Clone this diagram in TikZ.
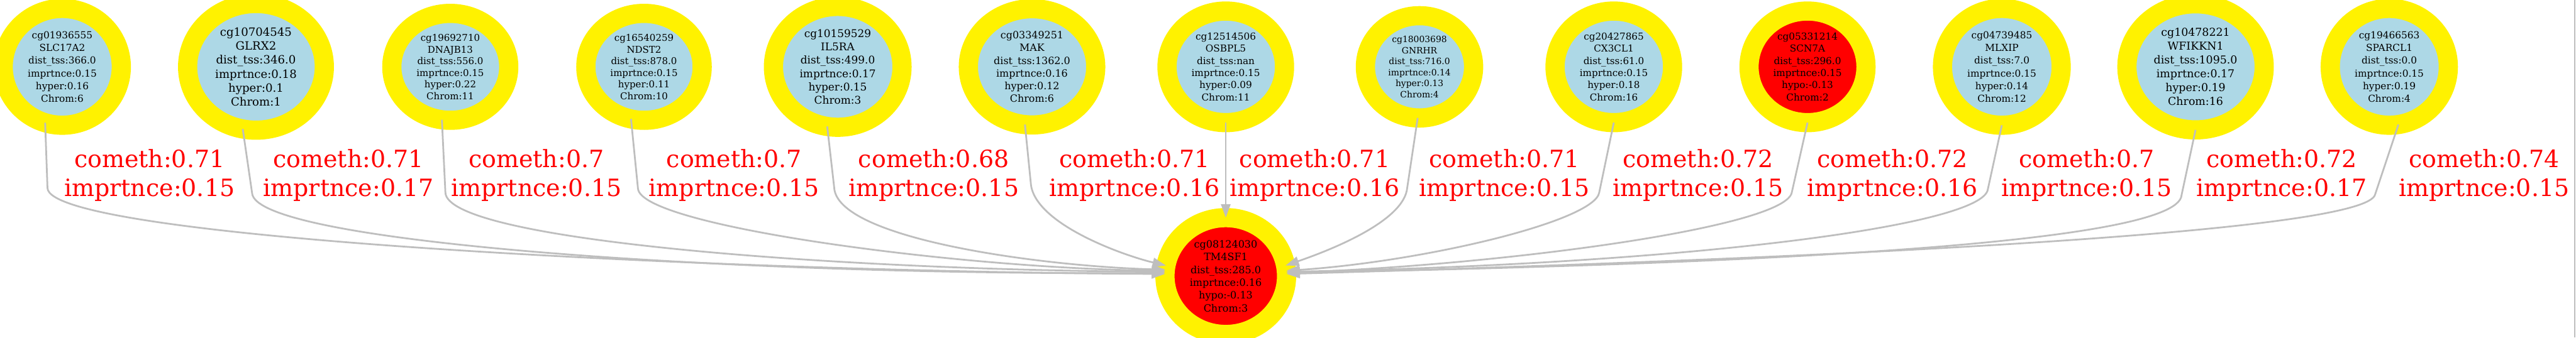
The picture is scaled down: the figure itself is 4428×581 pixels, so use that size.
\documentclass[tikz,border=0pt]{standalone}
\usepackage{fontspec}
\setmainfont{DejaVu Serif}
\usetikzlibrary{shapes.geometric,arrows.meta}
\definecolor{cpgblue}{HTML}{ADD8E6}
\definecolor{edgegray}{HTML}{BEBEBE}
\begin{document}
\begin{tikzpicture}[x=1pt,y=-1pt,
  cpg/.style n args={5}{ellipse,draw=yellow,line width=33pt,fill=#1,minimum width=#2pt,minimum height=#3pt,
    inner sep=0pt,outer sep=0pt,align=center,text=black,font=\fontsize{#4}{#5}\selectfont},
  link/.style={draw=edgegray,line width=3pt,-{Triangle[length=23pt,width=16pt]}},
  elabel/.style={text=red,align=center,inner sep=0pt,font=\fontsize{41}{50}\selectfont}]
\useasboundingbox (0,0) rectangle (4428,581);
\node[cpg={cpgblue}{203}{201}{16.6}{21.8}] (n1) at (107,115) {cg01936555\\SLC17A2\\dist\_tss:366.0\\imprtnce:0.15\\hyper:0.16\\Chrom:6};
\node[cpg={cpgblue}{235}{218}{19.6}{24.1}] (n2) at (440,115) {cg10704545\\GLRX2\\dist\_tss:346.0\\imprtnce:0.18\\hyper:0.1\\Chrom:1};
\node[cpg={cpgblue}{201}{184}{16.2}{20}] (n3) at (774,115) {cg19692710\\DNAJB13\\dist\_tss:556.0\\imprtnce:0.15\\hyper:0.22\\Chrom:11};
\node[cpg={cpgblue}{200}{184}{16.2}{20}] (n4) at (1107,115) {cg16540259\\NDST2\\dist\_tss:878.0\\imprtnce:0.15\\hyper:0.11\\Chrom:10};
\node[cpg={cpgblue}{221}{208}{18.3}{22.9}] (n5) at (1440,115) {cg10159529\\IL5RA\\dist\_tss:499.0\\imprtnce:0.17\\hyper:0.15\\Chrom:3};
\node[cpg={cpgblue}{219}{200}{17.2}{21.9}] (n6) at (1774,115) {cg03349251\\MAK\\dist\_tss:1362.0\\imprtnce:0.16\\hyper:0.12\\Chrom:6};
\node[cpg={cpgblue}{202}{192}{16.5}{20.9}] (n7) at (2107,115) {cg12514506\\OSBPL5\\dist\_tss:nan\\imprtnce:0.15\\hyper:0.09\\Chrom:11};
\node[cpg={cpgblue}{186}{176}{15}{19}] (n8) at (2440,115) {cg18003698\\GNRHR\\dist\_tss:716.0\\imprtnce:0.14\\hyper:0.13\\Chrom:4};
\node[cpg={cpgblue}{202}{192}{16.4}{20.9}] (n9) at (2774,115) {cg20427865\\CX3CL1\\dist\_tss:61.0\\imprtnce:0.15\\hyper:0.18\\Chrom:16};
\node[cpg={red}{201}{192}{16.5}{20.9}] (n10) at (3107,115) {cg05331214\\SCN7A\\dist\_tss:296.0\\imprtnce:0.15\\hypo:-0.13\\Chrom:2};
\node[cpg={cpgblue}{204}{201}{16.6}{22}] (n11) at (3441,115) {cg04739485\\MLXIP\\dist\_tss:7.0\\imprtnce:0.15\\hyper:0.14\\Chrom:12};
\node[cpg={cpgblue}{236}{217}{18.8}{23.8}] (n12) at (3774,115) {cg10478221\\WFIKKN1\\dist\_tss:1095.0\\imprtnce:0.17\\hyper:0.19\\Chrom:16};
\node[cpg={cpgblue}{203}{201}{16.6}{22}] (n13) at (4107,115) {cg19466563\\SPARCL1\\dist\_tss:0.0\\imprtnce:0.15\\hyper:0.19\\Chrom:4};
\node[cpg={red}{209}{201}{17.3}{22}] (tm) at (2107,475) {cg08124030\\TM4SF1\\dist\_tss:285.0\\imprtnce:0.16\\hypo:-0.13\\Chrom:3};
\foreach \src/\sa/\dx/\dy/\ax/\ay/\bx/\by/\ea in {n1/253/4/112/0/90/-703/-3/178,n2/258/16/110/4/89/-703/5/177,
  n3/261/6/125/2/84/-553/-3/176,n4/256/12/120/6/65/-353/-4/175,n5/260/12/105/4/87/-223/-6.5/174,
  n6/263/10/100/4/70/-74/-17.5/170,n8/268/-18/120/-5/57/80/-27.5/10,n9/270/-25/120/-7/49/239/-16/5,
  n10/270/-27/120/-10/59/389/-15/3,n11/270/-24/110/-7/63/689/-13/4,n12/270/-24/112/-5/85/789/-15/3,
  n13/279/-40/120/-11/60/1089/-31.5/2}
  \draw[link] (\src.\sa) -- ++(\dx,\dy) .. controls +(\ax,\ay) and +(\bx,\by) .. (tm.\ea);
\draw[link] (n7.south) -- (tm.north);
\node[elabel] (l1) at (257,302) {cometh:0.71\\imprtnce:0.15};
\node[elabel] (l2) at (599,302) {cometh:0.71\\imprtnce:0.17};
\node[elabel] (l3) at (922,302) {cometh:0.7\\imprtnce:0.15};
\node[elabel] (l4) at (1262,302) {cometh:0.7\\imprtnce:0.15};
\node[elabel] (l5) at (1605,302) {cometh:0.68\\imprtnce:0.15};
\node[elabel] (l6) at (1950,302) {cometh:0.71\\imprtnce:0.16};
\node[elabel] (l7) at (2260,302) {cometh:0.71\\imprtnce:0.16};
\node[elabel] (l8) at (2586,302) {cometh:0.71\\imprtnce:0.15};
\node[elabel] (l9) at (2919,302) {cometh:0.72\\imprtnce:0.15};
\node[elabel] (l10) at (3253,302) {cometh:0.72\\imprtnce:0.16};
\node[elabel] (l11) at (3587,302) {cometh:0.7\\imprtnce:0.15};
\node[elabel] (l12) at (3922,302) {cometh:0.72\\imprtnce:0.17};
\node[elabel] (l13) at (4270,302) {cometh:0.74\\imprtnce:0.15};
\draw[edgegray,line width=2pt] (4426,0) -- (4426,581);
\end{tikzpicture}
\end{document}
